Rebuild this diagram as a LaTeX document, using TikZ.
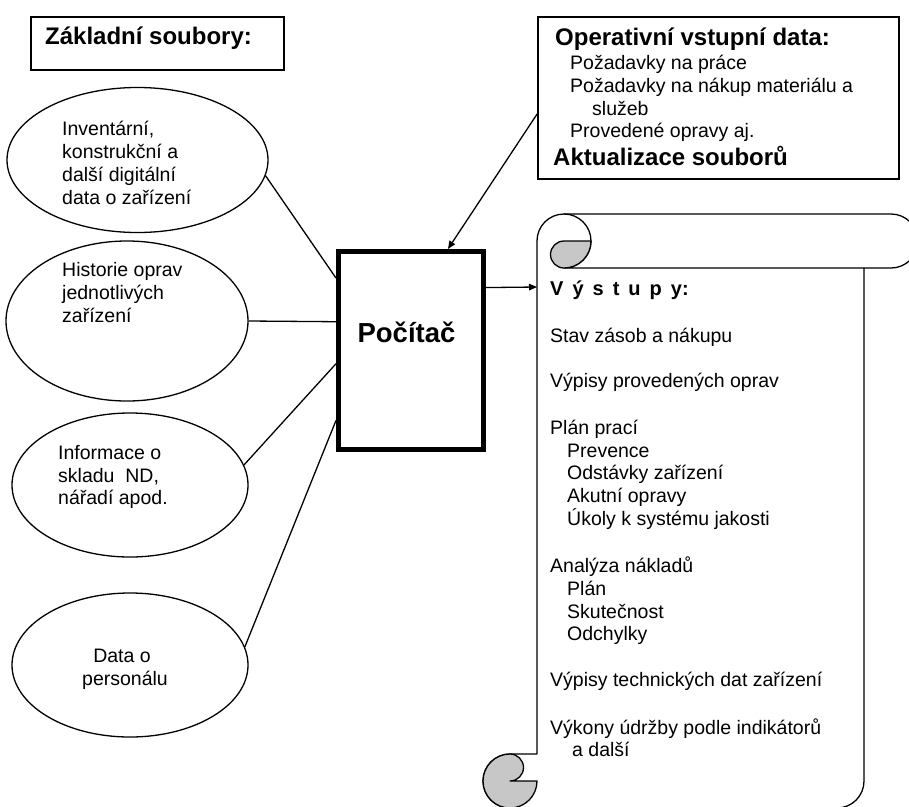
\documentclass[tikz,border=0pt]{standalone}
\usepackage{fontspec}
\setmainfont{Liberation Sans}
\usetikzlibrary{arrows.meta,shapes.geometric,calc}

\begin{document}
\begin{tikzpicture}[x=1pt,y=-1pt,
  txt/.style={anchor=base west, inner sep=0pt, font=\fontsize{19.5}{22}\selectfont},
  txtc/.style={anchor=base, inner sep=0pt, font=\fontsize{19.5}{22}\selectfont},
  hd/.style={anchor=base west, inner sep=0pt, font=\fontsize{24}{28}\selectfont\bfseries},
  frame/.style={draw, line width=1.6pt, inner sep=0pt},
  bubble/.style={ellipse, draw, line width=1.3pt, inner sep=0pt},
  link/.style={line width=1.3pt},
  flow/.style={line width=1.3pt, -{Triangle[length=8pt,width=6.5pt]}},
  roll/.style={line width=1.3pt, line join=round},
  rollshade/.style={roll, fill=black!22},
]
\useasboundingbox (0,0) rectangle (909,806);
\clip (0,0) rectangle (909,806);

% ---------- source files (left) ----------
\node[frame, minimum width=253pt, minimum height=53pt] (boxZ) at (157.5,43.5) {};
\node[hd] (tZ) at (45,44.5) {Základní soubory:};

\node[bubble, minimum width=261pt, minimum height=145pt] (e1) at (137.5,160) {};
\node[txt] (e1a) at (62,135) {Inventární,};
\node[txt] (e1b) at (62,158) {konstrukční a};
\node[txt] (e1c) at (62,181) {další digitální};
\node[txt] (e1d) at (62,204) {data o zařízení};

\node[bubble, minimum width=242pt, minimum height=160pt] (e2) at (127,321) {};
\node[txt] (e2a) at (62,276) {Historie oprav};
\node[txt] (e2b) at (62,299) {jednotlivých};
\node[txt] (e2c) at (62,322) {zařízení};

\node[bubble, minimum width=236pt, minimum height=144pt] (e3) at (130,485) {};
\node[txt] (e3a) at (58,459) {Informace o};
\node[txt] (e3b) at (58,482) {skladu\ \ ND,};
\node[txt] (e3c) at (58,504) {nářadí apod.};

\node[bubble, minimum width=236pt, minimum height=144pt] (e4) at (130,665) {};
\node[txtc] (e4a) at (122,662) {Data o};
\node[txtc] (e4b) at (125,685) {personálu};

% ---------- computer ----------
\node[draw, line width=5pt, minimum width=145pt, minimum height=198pt, inner sep=0pt] (pc) at (411,350.5) {};
\node[anchor=base, inner sep=0pt, font=\fontsize{27.5}{32}\selectfont\bfseries] (pcT) at (406.5,342) {Počítač};

% ---------- operative input ----------
\node[frame, minimum width=361pt, minimum height=162pt] (boxO) at (718.5,98) {};
\node[hd] (o0) at (555,45) {Operativní vstupní data:};
\node[txt] (o1) at (570,69) {Požadavky na práce};
\node[txt] (o2) at (570,92) {Požadavky na nákup materiálu a};
\node[txt] (o3) at (592,115) {služeb};
\node[txt] (o4) at (570,137) {Provedené opravy aj.};
\node[hd] (o5) at (553,165) {Aktualizace souborů};

% ---------- output scroll ----------
\path[roll, fill=white]
  (537,241) -- (537,754) -- (510,754)
  arc[start angle=270, end angle=90, radius=27]
  -- (837,808)
  arc[start angle=90, end angle=0, radius=27]
  -- (864,268) -- (891,268)
  arc[start angle=90, end angle=-90, radius=27]
  -- (564,214)
  arc[start angle=270, end angle=180, radius=27]
  -- cycle;
\draw[roll]
  (537,241) -- (537,754) -- (510,754)
  arc[start angle=270, end angle=90, radius=27]
  -- (837,808)
  arc[start angle=90, end angle=0, radius=27]
  -- (864,268) -- (891,268)
  arc[start angle=90, end angle=-90, radius=27]
  -- (564,214)
  arc[start angle=270, end angle=180, radius=27];
% upper curl
\draw[roll] (564,214) arc[start angle=270, end angle=450, radius=27] -- (864,268);
\draw[rollshade] (591,241) arc[start angle=0, end angle=90, radius=27]
  arc[start angle=90, end angle=270, radius=13.5] -- cycle;
% lower curl
\draw[rollshade] (510,754) arc[start angle=270, end angle=450, radius=13.5]
  -- (537,781) arc[start angle=0, end angle=270, radius=27] -- cycle;

\coordinate (scrollIn) at (537,287);

\node[anchor=base west, inner sep=0pt, font=\fontsize{20}{24}\selectfont\bfseries] (vh) at (550,295)
  {V\hspace{9pt}ý\hspace{9pt}s\hspace{9pt}t\hspace{9pt}u\hspace{9pt}p\hspace{9pt}y:};
\node[txt] (v1) at (550,342.7) {Stav zásob a nákupu};
\node[txt] (v2) at (550,387.5) {Výpisy provedených oprav};
\node[txt] (v3) at (550,434.3) {Plán prací};
\node[txt] (v3a) at (567,457) {Prevence};
\node[txt] (v3b) at (567,479.7) {Odstávky zařízení};
\node[txt] (v3c) at (567,502.4) {Akutní opravy};
\node[txt] (v3d) at (567,525.1) {Úkoly k systému jakosti};
\node[txt] (v4) at (550,572.7) {Analýza nákladů};
\node[txt] (v4a) at (567,595.4) {Plán};
\node[txt] (v4b) at (567,618) {Skutečnost};
\node[txt] (v4c) at (567,640.8) {Odchylky};
\node[txt] (v5) at (550,686.7) {Výpisy technických dat zařízení};
\node[txt] (v6) at (550,734) {Výkony údržby podle indikátorů};
\node[txt] (v6a) at (572,756) {a další};

% ---------- connectors ----------
\draw[link] (e1.-7.6) -- (pc.136.8);
\draw[link] (e2.0.3) -- (pc.159.2);
\draw[link] (e3.10) -- (pc.-170.5);
\draw[link] (e4.9) -- (pc.-137.2);
\draw[flow] (boxO.-175.6) -- (pc.70);
\draw[flow] (pc.40.3) -- (scrollIn);
\end{tikzpicture}
\end{document}
